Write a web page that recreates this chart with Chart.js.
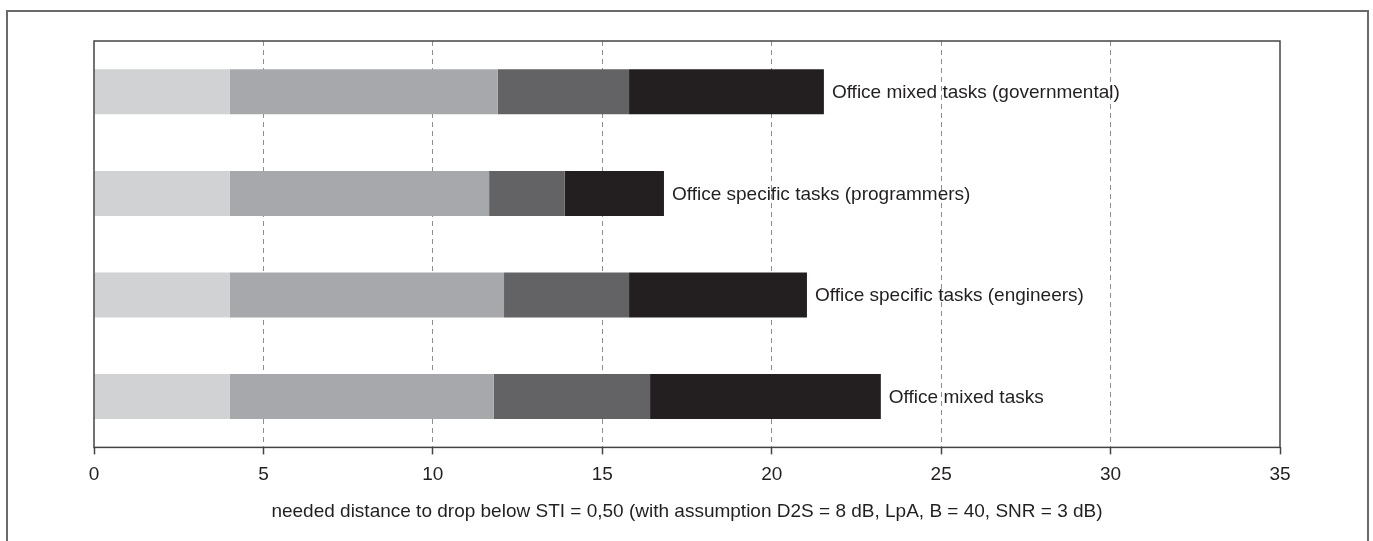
<!DOCTYPE html>
<html>
<head>
<meta charset="utf-8">
<title>Needed distance to drop below STI</title>
<script src="https://cdn.jsdelivr.net/npm/chart.js@4/dist/chart.umd.min.js"></script>
<style>
  html, body { margin: 0; padding: 0; background: #fff; overflow: hidden; }
  #wrap { position: relative; width: 1373px; height: 541px; }
  #frame {
    position: absolute; left: 6px; top: 10px; width: 1359px; height: 600px;
    border: 2px solid #6a6a6a; pointer-events: none;
  }
</style>
</head>
<body>
<div id="wrap">
  <canvas id="chart" width="1373" height="541"></canvas>
  <div id="frame"></div>
</div>
<script>
// categories, top to bottom
const categories = [
  'Office mixed tasks (governmental)',
  'Office specific tasks (programmers)',
  'Office specific tasks (engineers)',
  'Office mixed tasks'
];

// stacked segments (distance increments)
const segment1 = [4.0, 4.0, 4.0, 4.0];
const segment2 = [7.91, 7.66, 8.10, 7.80];
const segment3 = [3.88, 2.23, 3.69, 4.61];
const segment4 = [5.75, 2.93, 5.25, 6.81];

const xTicks = [0, 5, 10, 15, 20, 25, 30, 35];
const xTitle = 'needed distance to drop below STI = 0,50 (with assumption D2S = 8 dB, LpA, B = 40, SNR = 3 dB)';

const colors = ['#d1d2d4', '#a7a8ab', '#636365', '#231f20'];
const FONT = 'Liberation Sans, Arial, Helvetica, sans-serif';

// frame around plot area
const frame = {
  id: 'frame',
  afterDraw(chart) {
    const { ctx, chartArea: a } = chart;
    ctx.save();
    ctx.strokeStyle = '#444';
    ctx.lineWidth = 1.5;
    ctx.strokeRect(a.left, a.top, a.right - a.left, a.bottom - a.top);
    ctx.restore();
  }
};

// category labels at end of each bar
const endLabels = {
  id: 'endLabels',
  afterDatasetsDraw(chart) {
    const { ctx } = chart;
    const last = chart.getDatasetMeta(chart.data.datasets.length - 1);
    ctx.save();
    ctx.font = '19px ' + FONT;
    ctx.fillStyle = '#231f20';
    ctx.textBaseline = 'middle';
    ctx.textAlign = 'left';
    last.data.forEach((bar, i) => {
      ctx.fillText(chart.data.labels[i], bar.x + 8, bar.y + 1);
    });
    ctx.restore();
  }
};

new Chart(document.getElementById('chart'), {
  type: 'bar',
  data: {
    labels: categories,
    datasets: [segment1, segment2, segment3, segment4].map((d, i) => ({
      data: d,
      backgroundColor: colors[i],
      borderWidth: 0,
      categoryPercentage: 1,
      barPercentage: 0.443,
    })),
  },
  options: {
    indexAxis: 'y',
    responsive: false,
    animation: false,
    layout: { padding: { left: 94, right: 93, top: 41, bottom: 18 } },
    plugins: {
      legend: { display: false },
      tooltip: { enabled: false },
    },
    scales: {
      x: {
        stacked: true,
        min: 0,
        max: 35,
        afterBuildTicks: axis => { axis.ticks = xTicks.map(v => ({ value: v })); },
        ticks: {
          color: '#231f20',
          font: { family: FONT, size: 19 },
          padding: 9,
          maxRotation: 0,
        },
        grid: {
          color: c => (c.tick && (c.tick.value === 0 || c.tick.value === 35)) ? 'rgba(0,0,0,0)' : '#8e8e8e',
          lineWidth: 1,
          tickColor: '#444',
          tickLength: 7,
          tickWidth: 1.5,
          tickBorderDash: [],
        },
        border: { display: false, dash: [5, 4] },
        title: {
          display: true,
          text: xTitle,
          color: '#231f20',
          font: { family: FONT, size: 19 },
          padding: { top: 5, bottom: 0 },
        },
      },
      y: {
        stacked: true,
        display: false,
      },
    },
  },
  plugins: [frame, endLabels],
});
</script>
</body>
</html>
